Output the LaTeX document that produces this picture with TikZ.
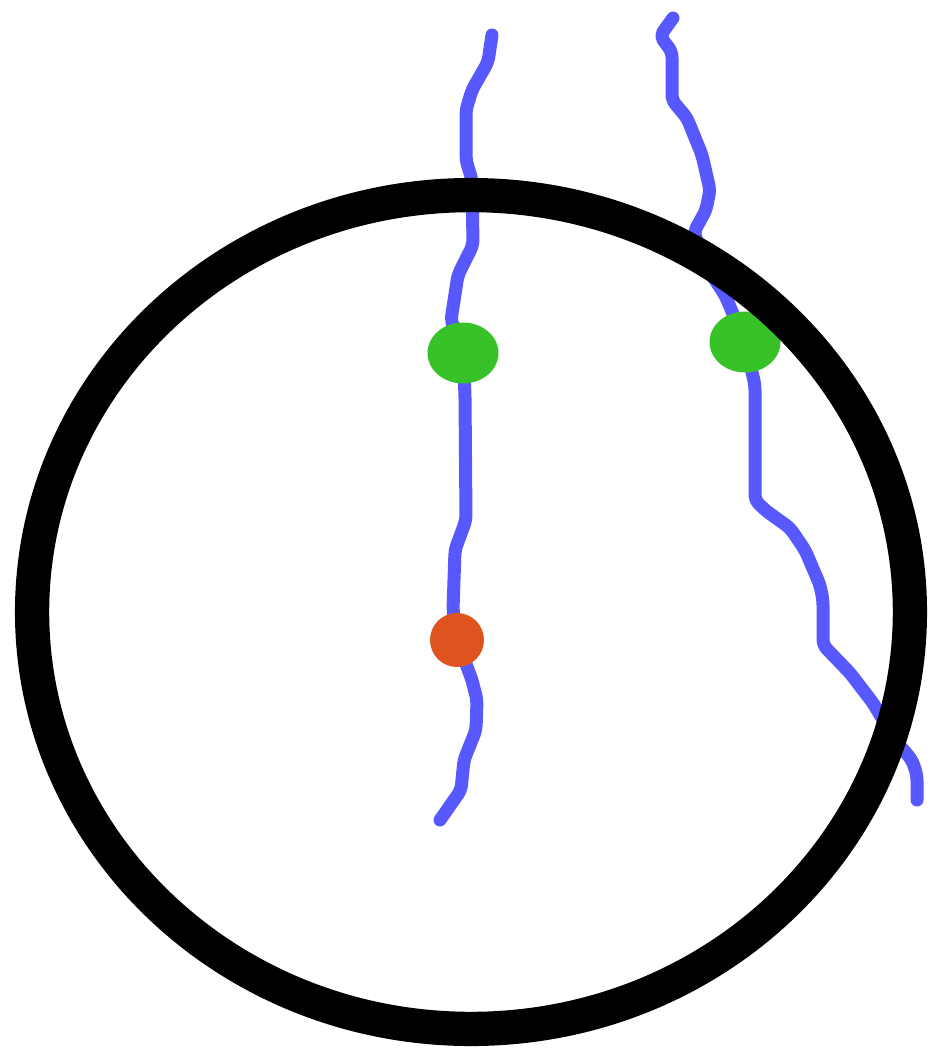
\documentclass[tikz,border=0pt]{standalone}
\usepackage{tikz}
\usetikzlibrary{shapes.geometric}
\definecolor{strandBlue}{HTML}{5858FF}
\definecolor{dotGreen}{HTML}{38C22A}
\definecolor{dotOrange}{HTML}{E0531F}

\begin{document}
\begin{tikzpicture}[
  x=0.02cm,y=-0.02cm,
  strand/.style={strandBlue,line width=7.4pt,line cap=round,line join=round,rounded corners=3pt},
  greendot/.style={ellipse,fill=dotGreen,inner sep=0pt,minimum width=1.42cm,minimum height=1.22cm},
  reddot/.style={circle,fill=dotOrange,inner sep=0pt,minimum size=1.08cm},
  rim/.style={line width=19.5pt}
]
  \useasboundingbox (0,0) rectangle (931,1052);

  % --- points where the dots sit ---
  \coordinate (gA) at (463,353);
  \coordinate (gB) at (745,342);
  \coordinate (rA) at (457,640);
  \coordinate (endA) at (440,820);
  \coordinate (endB) at (917,800);

  % --- left strand ---
  \draw[strand] (492,35) -- (488,62) -- (472,90) -- (466,110) -- (466,160) -- (472,180)
    -- (473,245) -- (458,275) -- (451,320) -- (gA) -- (465,395) -- (466,520) -- (455,550)
    -- (453,610) -- (rA) -- (472,680) -- (477,700) -- (476,730) -- (464,760) -- (461,790) -- (endA);

  % --- right strand ---
  \draw[strand] (673,18) -- (660,36) -- (672,52) -- (672,100) -- (687,118) -- (702,155)
    -- (710,190) -- (706,210) -- (694,232) -- (705,265) -- (725,295) -- (gB) -- (755,385)
    -- (755,500) -- (765,510) -- (790,528) -- (805,550) -- (820,585) -- (823,600) -- (823,645)
    -- (850,673) -- (873,703) -- (895,740) -- (912,760) -- (917,775) -- (endB);

  % --- dots ---
  \node[greendot] (dotA) at (gA) {};
  \node[greendot] (dotB) at (gB) {};
  \node[reddot]   (dotC) at (rA) {};

  % --- big circle ---
  \draw[rim] (471,612) ellipse [x radius=8.78cm, y radius=8.34cm];
\end{tikzpicture}
\end{document}
